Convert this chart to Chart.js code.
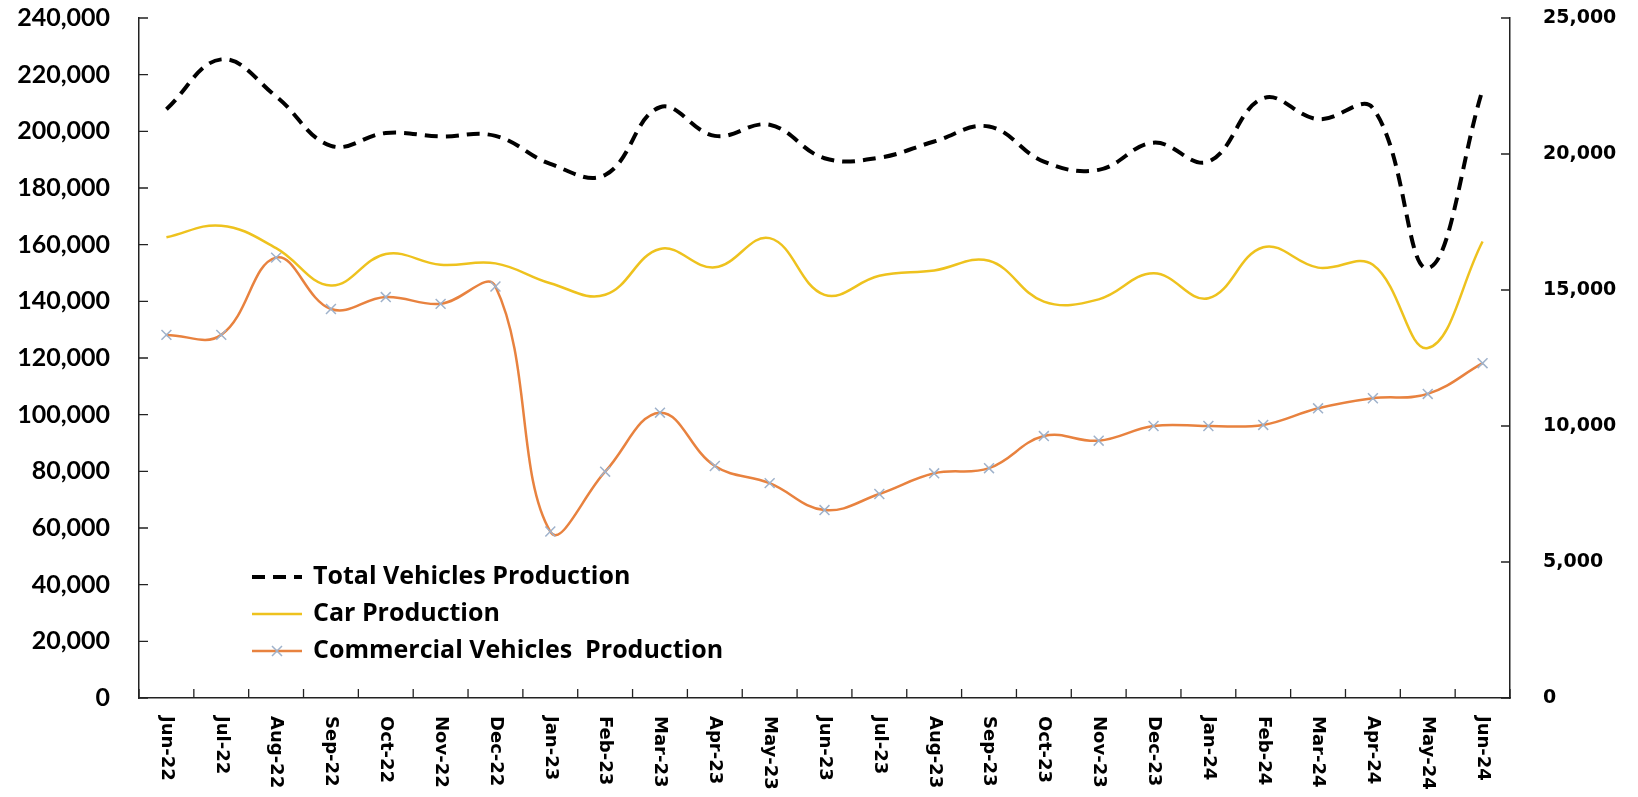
<!DOCTYPE html>
<html>
<head>
<meta charset="utf-8">
<script src="https://cdn.jsdelivr.net/npm/chart.js@4.4.1/dist/chart.umd.min.js"></script>
<style>
  html, body { margin: 0; padding: 0; background: #fff; }
  #wrap { width: 1638px; height: 797px; }
</style>
</head>
<body>
<div id="wrap"><canvas id="productionChart" width="1638" height="797"></canvas></div>
<script>
var months = ['Jun-22', 'Jul-22', 'Aug-22', 'Sep-22', 'Oct-22', 'Nov-22', 'Dec-22',
    'Jan-23', 'Feb-23', 'Mar-23', 'Apr-23', 'May-23', 'Jun-23', 'Jul-23', 'Aug-23',
    'Sep-23', 'Oct-23', 'Nov-23', 'Dec-23', 'Jan-24', 'Feb-24', 'Mar-24', 'Apr-24',
    'May-24', 'Jun-24'];

// left axis
var totalProduction = [207800, 225400, 212300, 194900, 199400, 198200, 198400, 188500,
    184600, 208500, 198400, 202300, 190500, 190700, 196400, 201700, 189300, 186400,
    196000, 189300, 211700, 204300, 208200, 151700, 214700];
var carProduction = [162600, 166700, 158800, 145600, 156700, 152900, 153400, 146400,
    142300, 158500, 152000, 162300, 142300, 149000, 150900, 154300, 139900, 140700,
    149900, 141100, 159100, 151900, 152900, 123500, 161100];

// right axis
var commercialProduction = [13350, 13350, 16190, 14300, 14740, 14490, 15130, 6120,
    8320, 10490, 8530, 7900, 6910, 7500, 8260, 8450, 9630, 9460, 10000, 10000, 10040,
    10650, 11020, 11180, 12310];

var leftAxisTicks = [0, 20000, 40000, 60000, 80000, 100000, 120000, 140000, 160000,
    180000, 200000, 220000, 240000];
var rightAxisTicks = [0, 5000, 10000, 15000, 20000, 25000];

function withCommas(v) {
    return v.toLocaleString('en-US');
}

// tick marks point inwards, month labels run top to bottom
var axisExtras = {
    id: 'axisExtras',
    afterDraw: function (chart) {
        var ctx = chart.ctx;
        var xs = chart.scales.x, yl = chart.scales.y, yr = chart.scales.y1;
        ctx.save();
        ctx.strokeStyle = '#222';
        ctx.lineWidth = 1.3;
        ctx.beginPath();
        yl.ticks.forEach(function (t, i) {
            var y = yl.getPixelForTick(i);
            ctx.moveTo(yl.right, y);
            ctx.lineTo(yl.right + 9, y);
        });
        yr.ticks.forEach(function (t, i) {
            var y = yr.getPixelForTick(i);
            ctx.moveTo(yr.left, y);
            ctx.lineTo(yr.left - 9, y);
        });
        var step = xs.width / months.length;
        for (var i = 0; i <= months.length; i++) {
            var x = xs.left + i * step;
            ctx.moveTo(x, xs.top);
            ctx.lineTo(x, xs.top - 9);
        }
        ctx.stroke();

        ctx.fillStyle = '#000';
        ctx.font = 'bold 18px "DejaVu Sans"';
        ctx.textAlign = 'left';
        ctx.textBaseline = 'middle';
        months.forEach(function (m, i) {
            ctx.save();
            ctx.translate(xs.getPixelForValue(i), xs.top + 18);
            ctx.rotate(Math.PI / 2);
            ctx.fillText(m, 0, 0);
            ctx.restore();
        });
        ctx.restore();
    }
};

// legend sits inside the plot, lower left
var insideLegend = {
    id: 'insideLegend',
    afterDraw: function (chart) {
        var ctx = chart.ctx;
        var x0 = 252, textX = 313, rows = [577, 614, 651];
        ctx.save();
        ctx.font = 'bold 25px "Open Sans"';
        ctx.textBaseline = 'middle';
        ctx.fillStyle = '#000';
        chart.data.datasets.forEach(function (ds, i) {
            var y = rows[i];
            ctx.strokeStyle = ds.borderColor;
            ctx.lineWidth = ds.borderWidth;
            ctx.setLineDash(ds.borderDash || []);
            ctx.beginPath();
            ctx.moveTo(x0, y);
            ctx.lineTo(x0 + 50, y);
            ctx.stroke();
            ctx.setLineDash([]);
            if (ds.pointStyle === 'crossRot') {
                ctx.strokeStyle = ds.pointBorderColor;
                ctx.lineWidth = ds.pointBorderWidth;
                ctx.beginPath();
                ctx.moveTo(x0 + 20, y - 5); ctx.lineTo(x0 + 30, y + 5);
                ctx.moveTo(x0 + 20, y + 5); ctx.lineTo(x0 + 30, y - 5);
                ctx.stroke();
            }
            ctx.fillText(ds.label, textX, y);
        });
        ctx.restore();
    }
};

function noEdgePadding(s) {
    s.paddingTop = 0;
    s.paddingBottom = 0;
}

new Chart(document.getElementById('productionChart').getContext('2d'), {
    type: 'line',
    data: {
        labels: months,
        datasets: [{
            label: 'Total Vehicles Production',
            data: totalProduction,
            yAxisID: 'y',
            borderColor: '#000000',
            borderWidth: 4,
            borderDash: [13, 8],
            pointRadius: 0,
            tension: 0.4
        }, {
            label: 'Car Production',
            data: carProduction,
            yAxisID: 'y',
            borderColor: '#EEC21E',
            borderWidth: 2.5,
            pointRadius: 0,
            tension: 0.4
        }, {
            label: 'Commercial Vehicles  Production',
            data: commercialProduction,
            yAxisID: 'y1',
            borderColor: '#E8823F',
            borderWidth: 2.5,
            pointStyle: 'crossRot',
            pointRadius: 7,
            pointBorderColor: '#9FB2CB',
            pointBorderWidth: 1.5,
            tension: 0.4
        }]
    },
    options: {
        responsive: false,
        animation: false,
        devicePixelRatio: 1,
        layout: { padding: { top: 18, left: 0, right: 0, bottom: 0 } },
        plugins: {
            legend: { display: false },
            tooltip: { enabled: false }
        },
        scales: {
            x: {
                offset: true,
                grid: { display: false, drawTicks: false },
                border: { display: true, color: '#222', width: 1.5 },
                ticks: { display: false },
                afterFit: function (s) { s.height = 99; }
            },
            y: {
                position: 'left',
                min: 0,
                max: 240000,
                afterBuildTicks: function (s) {
                    s.ticks = leftAxisTicks.map(function (v) { return {value: v}; });
                },
                grid: { display: false, drawTicks: false },
                border: { display: true, color: '#222', width: 1.5 },
                ticks: {
                    padding: 29,
                    color: '#000',
                    font: { family: 'Lato', weight: 'bold', size: 25 },
                    callback: function (v) { return withCommas(v); }
                },
                afterFit: function (s) { s.width = 139; noEdgePadding(s); }
            },
            y1: {
                position: 'right',
                min: 0,
                max: 25000,
                afterBuildTicks: function (s) {
                    s.ticks = rightAxisTicks.map(function (v) { return {value: v}; });
                },
                grid: { display: false, drawTicks: false },
                border: { display: true, color: '#222', width: 1.5 },
                ticks: {
                    padding: 33,
                    color: '#000',
                    font: { family: 'DejaVu Sans', weight: 'bold', size: 19 },
                    callback: function (v) { return withCommas(v); }
                },
                afterFit: function (s) { s.width = 128; noEdgePadding(s); }
            }
        }
    },
    plugins: [axisExtras, insideLegend]
});
</script>
</body>
</html>
